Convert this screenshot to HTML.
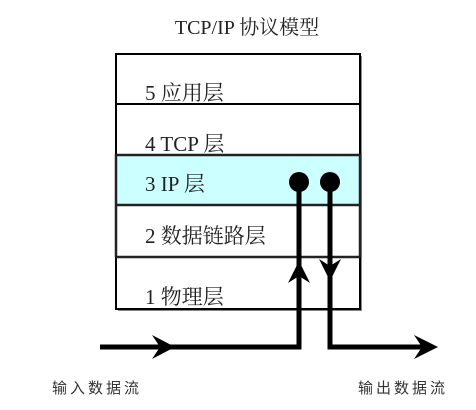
<!DOCTYPE html>
<html><head><meta charset="utf-8"><style>
body{margin:0;width:476px;height:410px;background:#fff;overflow:hidden}
</style></head><body>
<svg width="476" height="410" xmlns="http://www.w3.org/2000/svg" style="position:absolute;left:0;top:0">
<g font-family="Liberation Serif, Noto Serif CJK SC, serif" fill="#222">
<text x="247" y="34" font-size="20" text-anchor="middle">TCP/IP 协议模型</text>
</g>
<rect x="118" y="56" width="244" height="255" fill="#888"/>
<rect x="116" y="54" width="244" height="255" fill="#fff" stroke="#000" stroke-width="2"/>
<rect x="116" y="155" width="244" height="50" fill="#ccffff" stroke="#222" stroke-width="2.5"/>
<line x1="116" y1="104" x2="360" y2="104" stroke="#000" stroke-width="2"/>
<line x1="116" y1="257" x2="360" y2="257" stroke="#222" stroke-width="2.5"/>
<line x1="116" y1="206" x2="116" y2="257" stroke="#222" stroke-width="2.5"/>
<line x1="360" y1="206" x2="360" y2="257" stroke="#222" stroke-width="2.5"/>
<g font-family="Liberation Serif, Noto Serif CJK SC, serif" font-size="21" fill="#222">
<text x="145" y="100">5 应用层</text>
<text x="145" y="151">4 TCP 层</text>
<text x="145" y="191">3 IP 层</text>
<text x="145" y="243">2 数据链路层</text>
<text x="145" y="304">1 物理层</text>
</g>
<g fill="none" stroke="#000" stroke-width="5">
<polyline points="100,347 299,347 299,182"/>
<polyline points="330,182 330,347 432,347"/>
</g>
<circle cx="299" cy="182" r="10" fill="#000"/>
<circle cx="330" cy="182" r="10" fill="#000"/>
<polygon points="152,335 175,347 152,359 160,347" fill="#000"/>
<polygon points="414,335 438,347 414,359 422,347" fill="#000"/>
<polygon points="288,283 299,261 310,283 299,276" fill="#000"/>
<polygon points="319,259 330,281 341,259 330,266" fill="#000"/>
<g font-family="Liberation Sans, Noto Sans CJK SC, sans-serif" font-size="15" fill="#333" letter-spacing="3">
<text x="52" y="393">输入数据流</text>
<text x="358" y="393">输出数据流</text>
</g>
</svg>
</body></html>
